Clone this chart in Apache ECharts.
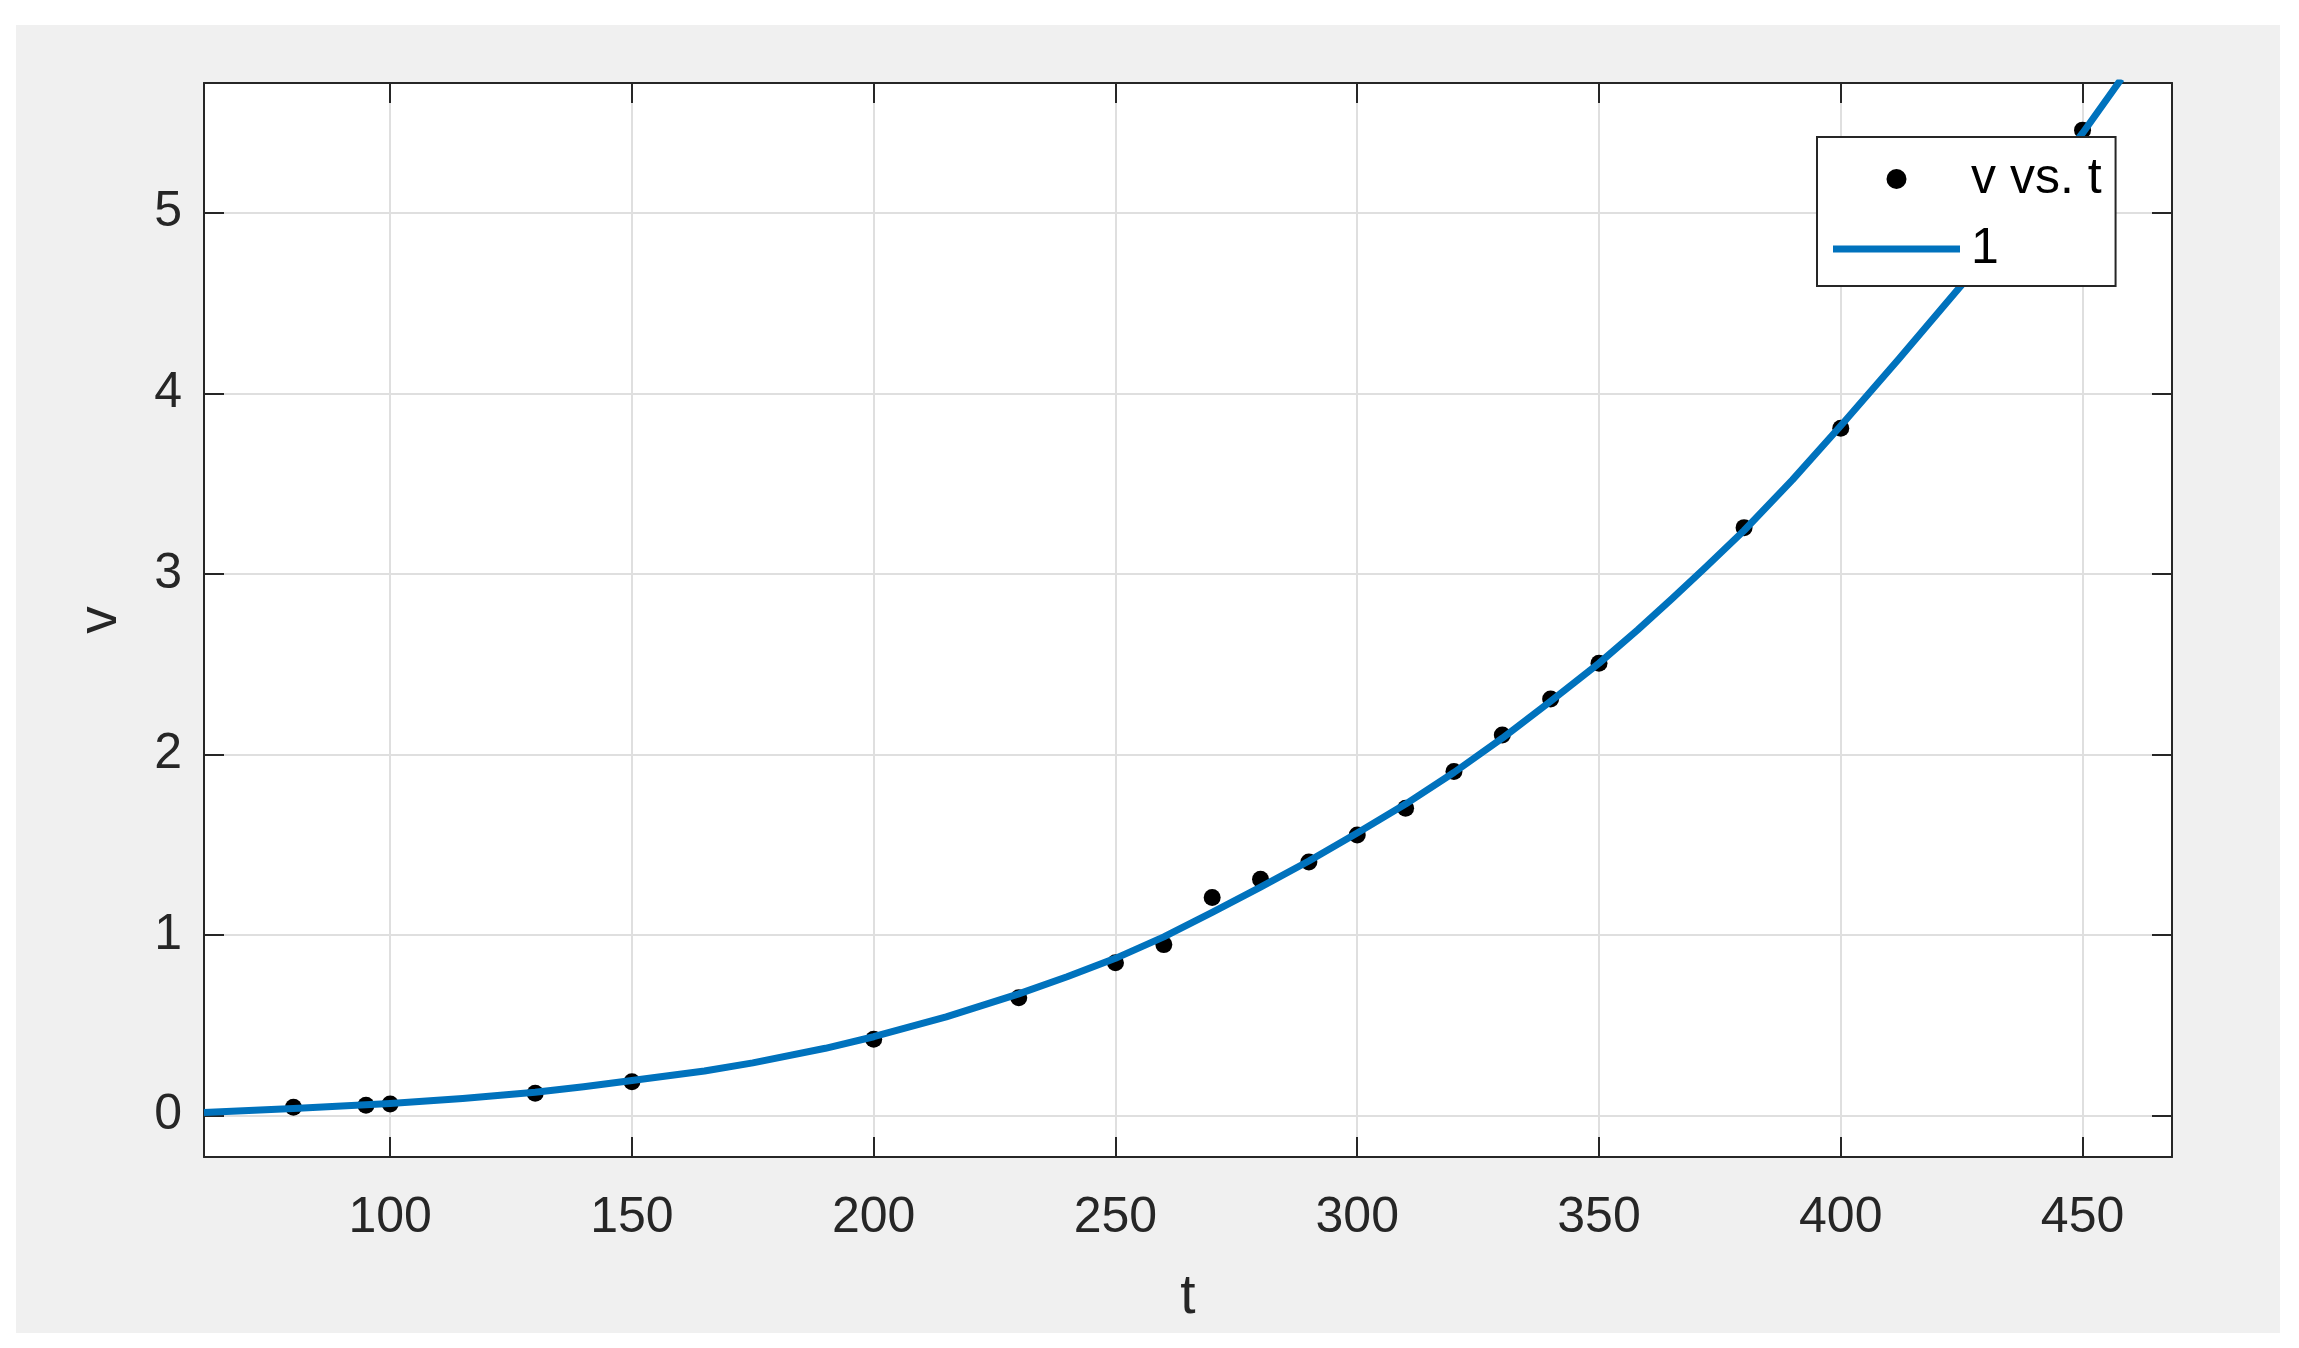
<!DOCTYPE html>
<html>
<head>
<meta charset="utf-8">
<script src="https://cdn.jsdelivr.net/npm/echarts@6/dist/echarts.min.js"></script>
<style>
html,body{margin:0;padding:0;background:#fff;overflow:hidden}
#bg{position:absolute;left:16px;top:25px;width:2264px;height:1308px;background:#f0f0f0}
#chart{position:absolute;left:0;top:0;width:2299px;height:1348px}
</style>
</head>
<body>
<div id="bg"></div>
<div id="chart"></div>
<script>
// Measured data points (v vs. t)
const tData = [80, 95, 100, 130, 150, 200, 230, 250, 260, 270, 280, 290, 300, 310, 320, 330, 340, 350, 380, 400, 450];
const vData = [0.047, 0.058, 0.065, 0.124, 0.188, 0.423, 0.653, 0.847, 0.947, 1.208, 1.309, 1.405, 1.554, 1.702, 1.905, 2.108, 2.307, 2.505, 3.256, 3.806, 5.457];

// Fitted curve "1"
const fitT = [61.5, 80, 100, 115, 130, 140, 150, 165, 175, 190, 200, 215, 230, 240, 250, 260, 270, 280, 290, 300, 310, 320, 330, 340, 350, 358, 365, 372, 380, 390, 400, 412, 425, 438, 450, 458];
const fitV = [0.018, 0.04, 0.067, 0.095, 0.13, 0.16, 0.195, 0.247, 0.292, 0.373, 0.437, 0.547, 0.674, 0.769, 0.871, 0.99, 1.125, 1.265, 1.41, 1.565, 1.725, 1.9, 2.09, 2.295, 2.505, 2.69, 2.86, 3.035, 3.24, 3.52, 3.82, 4.19, 4.60, 5.03, 5.44, 5.74];

// Axes
const xTicks = [100, 150, 200, 250, 300, 350, 400, 450];
const yTicks = [0, 1, 2, 3, 4, 5];
const xRange = [61.5, 468.5];
const yRange = [-0.229, 5.718];
const seriesNames = ['v vs. t', '1'];
const xName = 't';
const yName = 'v';

const FONT = '"Liberation Sans", Arial, Helvetica, sans-serif';
const AXIS_COLOR = '#262626';
const GRID_COLOR = '#dfdfdf';
const FIT_COLOR = '#0072BD';
const FIT_WIDTH = 7;

function xAxisCfg(pos, main) {
  return {
    type: 'value', gridIndex: 0, position: pos,
    min: xRange[0], max: xRange[1],
    axisLine: { show: true, onZero: false, lineStyle: { color: AXIS_COLOR, width: 2 } },
    axisTick: { show: true, inside: true, length: 20, customValues: xTicks, lineStyle: { color: AXIS_COLOR, width: 2 } },
    axisLabel: { show: main, customValues: xTicks, margin: 36, color: AXIS_COLOR, fontSize: 50, fontFamily: FONT },
    splitLine: { show: main, lineStyle: { color: GRID_COLOR, width: 2 } },
    name: main ? xName : '', nameLocation: 'middle', nameGap: 113,
    nameTextStyle: { color: AXIS_COLOR, fontSize: 55, fontFamily: FONT }
  };
}
function yAxisCfg(pos, main) {
  return {
    type: 'value', gridIndex: 0, position: pos,
    min: yRange[0], max: yRange[1],
    axisLine: { show: true, onZero: false, lineStyle: { color: AXIS_COLOR, width: 2 } },
    axisTick: { show: true, inside: true, length: 20, customValues: yTicks, lineStyle: { color: AXIS_COLOR, width: 2 } },
    axisLabel: { show: main, customValues: yTicks, margin: 22, color: AXIS_COLOR, fontSize: 50, fontFamily: FONT },
    splitLine: { show: main, lineStyle: { color: GRID_COLOR, width: 2 } },
    name: main ? yName : '', nameLocation: 'middle', nameGap: 76,
    nameTextStyle: { color: AXIS_COLOR, fontSize: 55, fontFamily: FONT }
  };
}

const chart = echarts.init(document.getElementById('chart'), null, { renderer: 'canvas' });
chart.setOption({
  animation: false,
  backgroundColor: 'transparent',
  grid: { left: 204, top: 83, width: 1968, height: 1074, show: true, backgroundColor: '#ffffff', borderWidth: 0 },
  xAxis: [xAxisCfg('bottom', true), xAxisCfg('top', false)],
  yAxis: [yAxisCfg('left', true), yAxisCfg('right', false)],
  legend: {
    data: [
      { name: seriesNames[0], icon: 'circle', itemStyle: { color: '#000000', opacity: 1 } },
      { name: seriesNames[1], icon: 'path://M0,0L127,0L127,7L0,7Z', itemStyle: { color: FIT_COLOR, borderWidth: 0 } }
    ],
    orient: 'vertical', left: 1817, top: 137,
    padding: [17, 14, 12, 16], itemWidth: 127, itemHeight: 20, itemGap: 20,
    selectedMode: false, backgroundColor: '#ffffff', borderColor: AXIS_COLOR, borderWidth: 2, borderRadius: 0,
    itemStyle: { borderWidth: 0 },
    lineStyle: { width: 0 },
    textStyle: { fontSize: 50, color: '#000', fontFamily: FONT, lineHeight: 46, padding: [0, 0, 0, 6] }
  },
  series: [
    {
      name: seriesNames[0], type: 'scatter', xAxisIndex: 0, yAxisIndex: 0,
      symbol: 'circle', symbolSize: 17, itemStyle: { color: '#000000', opacity: 1 }, z: 2,
      data: tData.map((t, i) => [t, vData[i]])
    },
    {
      name: seriesNames[1], type: 'line', xAxisIndex: 0, yAxisIndex: 0,
      showSymbol: false, symbol: 'none', smooth: false, clip: true,
      lineStyle: { color: FIT_COLOR, width: FIT_WIDTH, join: 'round' }, itemStyle: { color: FIT_COLOR }, z: 3,
      data: fitT.map((t, i) => [t, fitV[i]])
    }
  ]
});
</script>
</body>
</html>
